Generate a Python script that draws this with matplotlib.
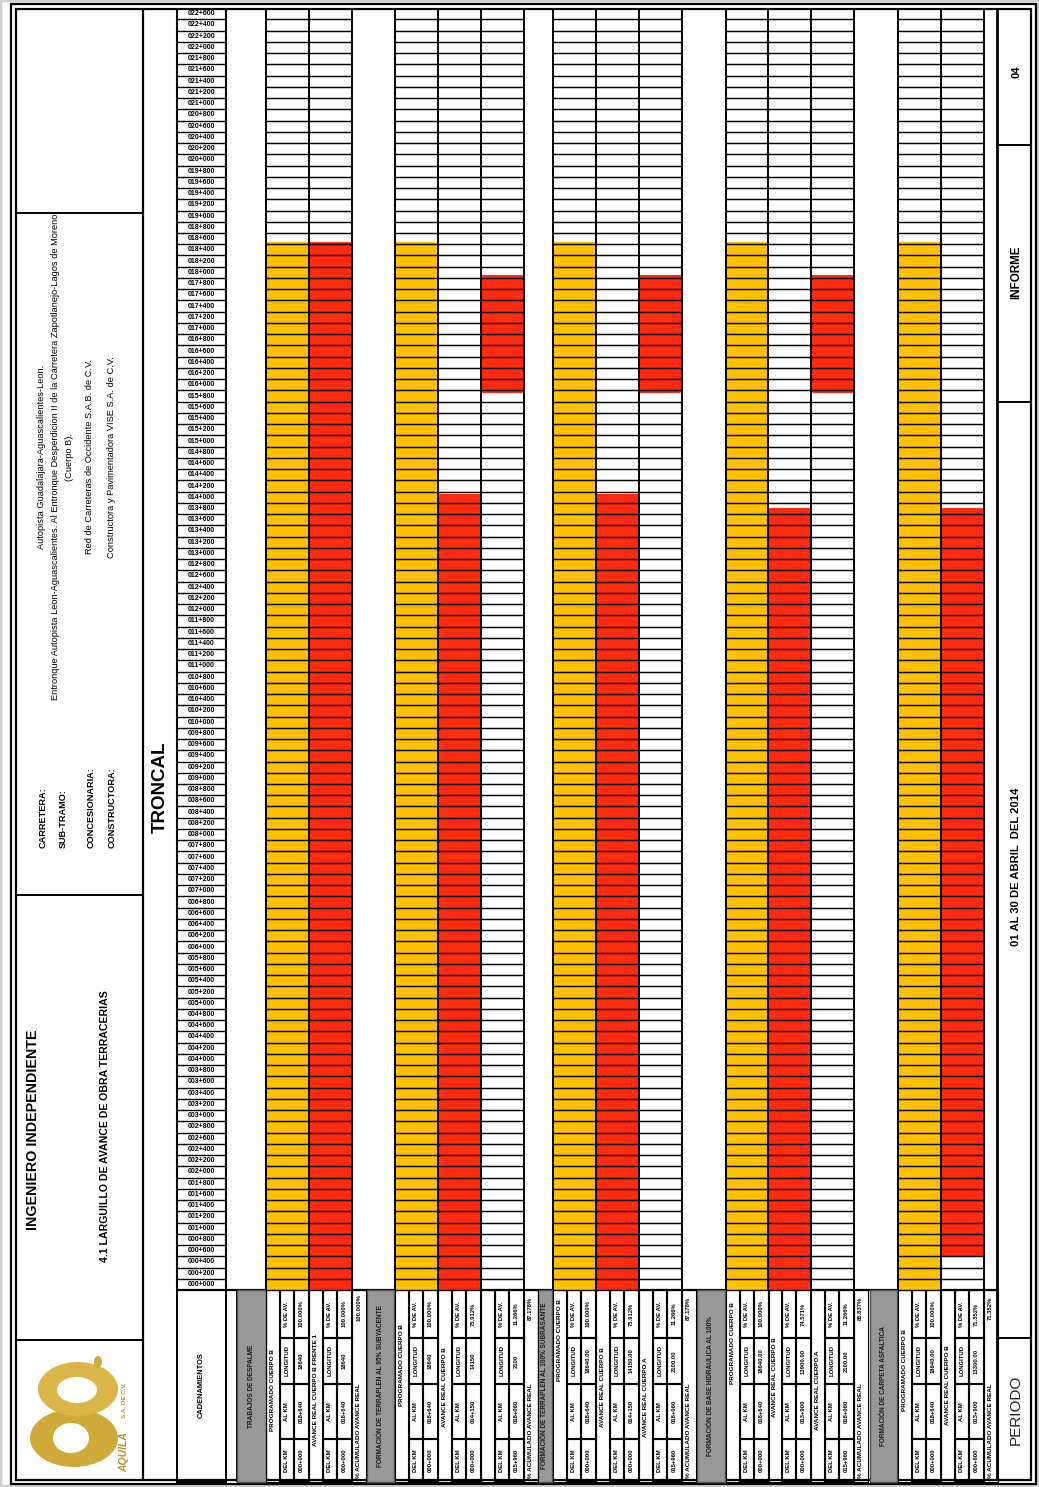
import matplotlib
matplotlib.use('Agg')
import matplotlib.pyplot as plt
from matplotlib import font_manager as fm
from matplotlib.patches import Rectangle, Ellipse
import numpy as np

W, H = 1039, 1487
_names = {f.name for f in fm.fontManager.ttflist}
HAS_NARROW = 'Liberation Sans Narrow' in _names
NARROW = ['Liberation Sans Narrow', 'DejaVu Sans'] if HAS_NARROW else ['Liberation Sans', 'DejaVu Sans']
NS = 1.0 if HAS_NARROW else 0.84
ARIAL = ['Liberation Sans', 'DejaVu Sans']
plt.rcParams['font.family'] = ARIAL

# ---------------- data ----------------
KM_TOTAL = 22.8
ROW_KM = 0.2
stations = np.round(np.arange(0, KM_TOTAL, ROW_KM), 1)
chainage_labels = ["%03d+%03d" % (int(round(s * 1000)) // 1000, int(round(s * 1000)) % 1000)
                   for s in stations]

group_titles = ["TRABAJOS DE DESPALME",
                "FORMACIÓN DE TERRAPLEN AL 95% SUBYACENTE",
                "FORMACIÓN DE TERRAPLEN AL 100% SUBRASANTE",
                "FORMACIÓN DE BASE HIDRAULICA AL 100%",
                "FORMACIÓN DE CARPETA ASFALTICA"]
col_group = [0, 0, 1, 1, 1, 2, 2, 2, 3, 3, 3, 4, 4]
col_names = ["PROGRAMADO CUERPO B", "AVANCE REAL CUERPO B FRENTE 1",
             "PROGRAMADO CUERPO B", "AVANCE REAL CUERPO B", "",
             "PROGRAMADO CUERPO B", "AVANCE REAL CUERPO B", "AVANCE REAL CUERPO A",
             "PROGRAMADO CUERPO B", "AVANCE REAL CUERPO B", "AVANCE REAL CUERPO A",
             "PROGRAMADO CUERPO B", "AVANCE REAL CUERPO B"]
col_kind = ['P', 'R', 'P', 'R', 'R', 'P', 'R', 'R', 'P', 'R', 'R', 'P', 'R']
del_km = [0.0, 0.0, 0.0, 0.0, 15.96, 0.0, 0.0, 15.96, 0.0, 0.0, 15.96, 0.0, 0.6]
al_km = [18.64, 18.64, 18.64, 14.15, 18.06, 18.64, 14.15, 18.06, 18.64, 13.9, 18.06, 18.64, 13.9]
del_text = ["000+000", "000+000", "000+000", "000+000", "015+960", "000+000", "000+000",
            "015+960", "000+000", "000+000", "015+960", "000+000", "000+600"]
al_text = ["018+640", "018+640", "018+640", "014+150", "018+060", "018+640", "014+150",
           "018+060", "018+640", "013+900", "018+060", "018+640", "013+900"]
lon_text = ["18640", "18640", "18640", "14150", "2100", "18640.00", "14150.00", "2100.00",
            "18640.00", "13900.00", "2100.00", "18640.00", "13300.00"]
pct_text = ["100.000%", "100.000%", "100.000%", "75.912%", "11.266%", "100.000%", "75.912%",
            "11.266%", "100.000%", "74.571%", "11.266%", "100.000%", "71.352%"]
acum_text = ["100.000%", "87.178%", "87.178%", "85.837%", "71.352%"]

# ---------------- layout ----------------
YELLOW = '#FFC000'
RED = '#FF2A10'
GRAY = '#989898'
COL_X = [266, 309, 395, 438, 481, 553, 596, 639, 726, 768, 811, 898, 941]
COL_W = 42.5
ACUM_X = [352, 524, 682, 854, 984]
ACUM_W = 13.5
GRAY_X = [(237, 266), (367, 394), (538, 552), (697, 725), (870, 897)]
Y_TABLE = 1290
Y_BOT = 1482
TROWS = [1290, 1338, 1384, 1439, 1482]
PXKM = (1290 - 242) / 18.64
Y_TOP = Y_TABLE - KM_TOTAL * PXKM

fig = plt.figure(figsize=(W / 100, H / 100), dpi=100)
bg = fig.add_axes([0, 0, 1, 1])
bg.set_xlim(0, W)
bg.set_ylim(H, 0)
bg.axis('off')
gax = fig.add_axes([0, (H - Y_TABLE) / H, 1, (Y_TABLE - Y_TOP) / H])
gax.set_xlim(0, W)
gax.set_ylim(0, KM_TOTAL)
gax.axis('off')


def vtext(x, y, s, size, weight='normal', family=None, color='black', anchor='center', style='normal'):
    fam = family if family is not None else ARIAL
    if anchor == 'center':
        bg.text(x, y, s, rotation=90, ha='center', va='center', fontsize=size,
                fontweight=weight, family=fam, color=color, fontstyle=style)
    else:
        bg.text(x, y, s, rotation=90, rotation_mode='anchor', ha='left', va='center',
                fontsize=size, fontweight=weight, family=fam, color=color, fontstyle=style)


def line(x0, y0, x1, y1, lw=1.0, color='black'):
    bg.plot([x0, x1], [y0, y1], color=color, lw=lw, solid_capstyle='butt')


def box(x0, y0, x1, y1, lw=1.0, fc='none', ec='black', z=2):
    bg.add_patch(Rectangle((x0, y0), x1 - x0, y1 - y0, fc=fc, ec=ec, lw=lw, zorder=z))


# ---------- page frame ----------
box(0, 0, W - 1, H - 1, lw=2.5, ec='#d0d0d0')
box(10.5, 3.5, 1035.5, 1484, lw=1.6)
box(15.5, 8.5, 1031, 1479.5, lw=1.6)
line(143, 8.5, 143, 1480, lw=1.6)
for yy in [213, 895, 1340]:
    line(15.5, yy, 143, yy, lw=1.4)
line(997, 8.5, 997, 1480, lw=2.0)
for yy in [145, 402, 1338]:
    line(997, yy, 1031, yy, lw=1.4)

# ---------- header texts ----------
vtext(33, 1130, "INGENIERO INDEPENDIENTE", 10.3, 'bold')
vtext(105, 1126, "4.1 LARGUILLO DE AVANCE DE OBRA TERRACERIAS", 7.6, 'bold')
for xx, s in [(43, "CARRETERA:"), (63, "SUB-TRAMO:"), (91, "CONCESIONARIA:"), (112, "CONSTRUCTORA:")]:
    vtext(xx, 848, s, 7.8 * NS, 'bold', NARROW, anchor='start')
proj = [(42, "Autopista Guadalajara-Aguascalientes-Leon."),
        (56, "Entronque Autopista Leon-Aguascalientes. Al Entronque Desperdicion II de la Carretera Zapotlanejo-Lagos de Moreno"),
        (69, "(Cuerpo B)."),
        (90, "Red de Carreteras de Occidente S.A.B. de C.V."),
        (112, "Constructora y Pavimentadora VISE S.A. de C.V.")]
for xx, s in proj:
    vtext(xx, 457, s, 7.9 * NS, 'normal', NARROW)
vtext(160, 787, "TRONCAL", 13.5, 'bold')

# logo
gold = '#CFA93A'
bg.add_patch(Ellipse((74, 1438), 88, 58, fc=gold, ec='none', zorder=3))
bg.add_patch(Ellipse((71, 1438), 36, 30, fc='white', ec='none', zorder=4))
bg.add_patch(Ellipse((78, 1389), 80, 54, fc='#D9B54A', ec='none', zorder=3))
bg.add_patch(Ellipse((77, 1390), 40, 26, fc='white', ec='none', zorder=4))
bg.add_patch(Ellipse((98, 1362), 8, 12, fc=gold, ec='none', zorder=4))
vtext(124, 1452, "AQUILA", 7.5, 'bold', ARIAL, color='#B8922A', style='italic')
vtext(124, 1400, "S.A. DE C.V.", 4.5, 'bold', ARIAL, color='#B8922A')

# right band
vtext(1016, 72, "04", 8, 'bold')
vtext(1016, 272, "INFORME", 8.4, 'bold')
vtext(1016, 867, "01 AL 30 DE ABRIL  DEL 2014", 8.1, 'bold')
vtext(1016, 1410, "PERIODO", 11, 'normal', ARIAL, color='#222222')

# ---------- chainage column ----------
LX0, LX1 = 177, 226
gax.hlines(np.append(stations, KM_TOTAL), LX0, LX1, colors='black', lw=1.0, zorder=3)
gax.vlines([LX0, LX1], 0, KM_TOTAL, colors='black', lw=1.5, zorder=3)
for s, lab in zip(stations, chainage_labels):
    gax.text((LX0 + LX1) / 2, s + ROW_KM / 2, lab, ha='center', va='center',
             fontsize=6.0 * NS, fontweight='bold', family=NARROW, zorder=4)

# ---------- progress bars ----------
for i in range(len(COL_X)):
    c = YELLOW if col_kind[i] == 'P' else RED
    gax.bar(COL_X[i] + COL_W / 2, al_km[i] - del_km[i], bottom=del_km[i], width=COL_W,
            color=c, linewidth=0, zorder=1)

for g in range(len(group_titles)):
    cols = [i for i in range(len(COL_X)) if col_group[i] == g]
    x0 = COL_X[cols[0]]
    x1 = COL_X[cols[-1]] + COL_W
    gax.hlines(np.append(stations, KM_TOTAL), x0, x1, colors='black', lw=1.05, zorder=2)
    edges = [COL_X[i] for i in cols] + [x1]
    gax.vlines(edges, 0, KM_TOTAL, colors='black', lw=1.4, zorder=2)

# ---------- bottom table ----------
line(LX0, Y_TABLE, 997, Y_TABLE, lw=1.6)
box(LX0, Y_TABLE, LX1, Y_BOT, lw=1.4)
vtext((LX0 + LX1) / 2, 1385, "CADENAMIENTOS", 6.4 * NS, 'bold', NARROW)
line(237, Y_TABLE, 237, Y_BOT, lw=1.4)

for g, (gx0, gx1) in enumerate(GRAY_X):
    box(gx0, Y_TABLE, gx1, Y_BOT, lw=1.0, fc=GRAY, ec='#555555')
    vtext((gx0 + gx1) / 2, 1386, group_titles[g], 5.6 * NS, 'bold', NARROW, color='#1a1a1a')

labels_rows = ["% DE AV.", "LONGITUD", "AL KM", "DEL KM"]
name_centers = [1390, 1390, 1365, 1387, 1390, 1340, 1387, 1397, 1343, 1377, 1390, 1370, 1385]
for i in range(len(COL_X)):
    x0 = COL_X[i]
    xs = x0 + 13.5
    xv = x0 + 28
    x1 = x0 + COL_W
    box(x0, Y_TABLE, xs, Y_BOT, lw=0.8)
    if col_names[i]:
        vtext((x0 + xs) / 2, name_centers[i], col_names[i], 5.5 * NS, 'bold', NARROW)
    vals = [pct_text[i], lon_text[i], al_text[i], del_text[i]]
    for r in range(4):
        ya, yb = TROWS[r], TROWS[r + 1]
        box(xs, ya, xv, yb, lw=1.5)
        box(xv, ya, x1, yb, lw=1.5)
        vtext((xs + xv) / 2, (ya + yb) / 2, labels_rows[r], 5.2 * NS, 'bold', NARROW)
        vtext((xv + x1) / 2, (ya + yb) / 2, vals[r], 5.0 * NS, 'bold', NARROW)

for g, ax0 in enumerate(ACUM_X):
    box(ax0, Y_TABLE, ax0 + ACUM_W, Y_BOT, lw=0.8)
    vtext(ax0 + ACUM_W / 2, 1308, acum_text[g], 5.0 * NS, 'bold', NARROW)
    vtext(ax0 + ACUM_W / 2, 1478, "% ACUMULADO AVANCE REAL", 5.5 * NS, 'bold', NARROW, anchor='start')

fig.savefig('out.png', dpi=100)
